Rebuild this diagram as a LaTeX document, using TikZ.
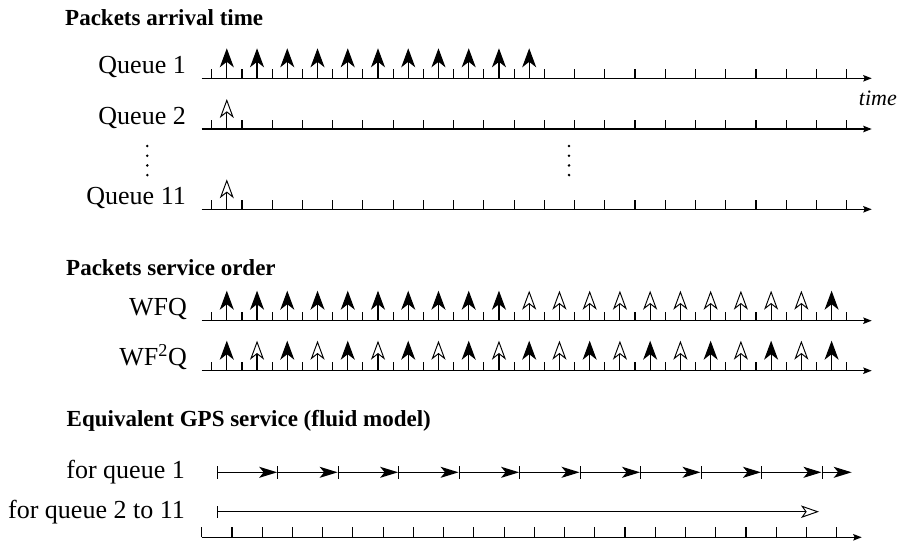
\documentclass[tikz,border=0pt]{standalone}
\usepackage{fontspec}
\setmainfont{Liberation Serif}
\usetikzlibrary{arrows.meta}

\begin{document}
\begin{tikzpicture}[x=1pt,y=-1pt,
  axis/.style={line width=1.15pt,-{Stealth[length=8.5pt,width=6.5pt,inset=1.5pt]}},
  tickmark/.style={line width=1.15pt},
  pkt/.style={line width=1.15pt,-{Stealth[length=19pt,width=14pt,inset=5.5pt]}},
  pktopen/.style={line width=1.15pt,-{Stealth[open,length=19pt,width=14pt,inset=5.5pt,fill=white,line width=0.95pt]}},
  gpsone/.style={line width=1.15pt,{Bar[width=13pt,line width=1.15pt]}-{Stealth[length=18pt,width=11pt,inset=4.5pt]}},
  gpsrest/.style={line width=1.15pt,{Bar[width=12pt,line width=1.15pt]}-{Stealth[open,length=18pt,width=12.5pt,inset=4.5pt,fill=white,line width=0.95pt]}},
  heading/.style={anchor=base west,inner sep=0pt,font=\bfseries\fontsize{23}{27}\selectfont},
  rowlabel/.style={anchor=base east,inner sep=0pt,font=\fontsize{26}{30}\selectfont},
  vdot/.style={fill=black}
]
\useasboundingbox (0,0) rectangle (898,541);

% ---- section headings
\node[heading] (h1) at (65,25) {Packets arrival time};
\node[heading] (h2) at (66,275) {Packets service order};
\node[heading] (h3) at (66.5,426.7) {Equivalent GPS service (fluid model)};

% ---- time axes with ticks
\foreach \r/\y in {q1/78.3, q2/129, q11/209.3, wfq/320.7, wftwo/370.7} {
  \coordinate (\r-s) at (201.7,\y);
  \coordinate (\r-e) at (871.7,\y);
  \draw[axis] (\r-s) -- (\r-e);
  \foreach \k in {0,...,21}
    \draw[tickmark] (211.7+\k*30.24,\y) -- ++(0,-9);
}

% ---- row labels
\node[rowlabel] (lq1) at (186,73.3) {Queue 1};
\node[rowlabel] (lq2) at (186,124) {Queue 2};
\node[rowlabel] (lq11) at (186,204.3) {Queue 11};
\node[rowlabel] (lwfq) at (187,315.7) {WFQ};
\node[rowlabel] (lwftwo) at (187,365.7) {WF\textsuperscript{2}Q};
\node[anchor=base east,inner sep=0pt,font=\itshape\fontsize{22}{26}\selectfont] (ltime) at (897,105) {time};

% ---- vertical ellipses
\foreach \j in {0,...,3} {
  \fill[vdot] (147.3,146+\j*9.7) circle (1.4);
  \fill[vdot] (569,146+\j*9.7) circle (1.4);
}

% ---- arrivals
\foreach \k in {0,...,10}
  \draw[pkt] (226.8+\k*30.24,78.3) -- ++(0,-30);
\draw[pktopen] (226.8,129) -- ++(0,-30);
\draw[pktopen] (226.8,209.3) -- ++(0,-30);

% ---- WFQ service order
\foreach \k in {0,...,9,20}
  \draw[pkt] (226.8+\k*30.24,320.7) -- ++(0,-30);
\foreach \k in {10,...,19}
  \draw[pktopen] (226.8+\k*30.24,320.7) -- ++(0,-30);

% ---- WF2Q service order
\foreach \k in {0,2,...,20}
  \draw[pkt] (226.8+\k*30.24,370.7) -- ++(0,-30);
\foreach \k in {1,3,...,19}
  \draw[pktopen] (226.8+\k*30.24,370.7) -- ++(0,-30);

% ---- GPS fluid service
\node[rowlabel] (lg1) at (185,478.3) {for queue 1};
\node[rowlabel] (lg2) at (185,518) {for queue 2 to 11};
\foreach \i in {0,...,9}
  \draw[gpsone] (216.7+\i*60.48,472.3) -- (216.7+\i*60.48+60.48,472.3);
\draw[gpsone] (821.5,472.3) -- (851.7,472.3);
\coordinate (gr-s) at (216.7,511.7);
\coordinate (gr-e) at (819,511.7);
\draw[gpsrest] (gr-s) -- (gr-e);

% ---- bottom time axis
\coordinate (b-s) at (201.7,537.3);
\coordinate (b-e) at (861.7,537.3);
\draw[axis] (b-s) -- (b-e);
\foreach \k in {0,...,21}
  \draw[tickmark] (201.7+\k*30.24,537.3) -- ++(0,-10);
\end{tikzpicture}
\end{document}
